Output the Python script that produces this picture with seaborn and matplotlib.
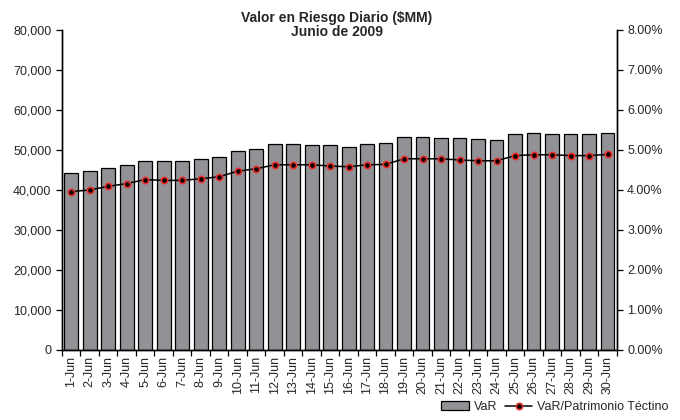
import numpy as np
import pandas as pd
import matplotlib
matplotlib.use("Agg")
import matplotlib.pyplot as plt
from matplotlib.ticker import FuncFormatter, FixedLocator
from matplotlib.patches import Patch
from matplotlib.lines import Line2D
import seaborn as sns

# Data
dates = [f"{d}-Jun" for d in range(1, 31)]
var_mm = [44170, 44670, 45580, 46250, 47170, 47170, 47170, 47670, 48170, 49670,
          50250, 51420, 51420, 51170, 51170, 50750, 51500, 51670, 53250, 53250,
          53000, 53000, 52750, 52500, 54080, 54330, 54080, 54080, 54080, 54330]
var_ratio = [3.96, 4.00, 4.09, 4.16, 4.26, 4.24, 4.24, 4.28, 4.33, 4.47,
             4.53, 4.63, 4.63, 4.63, 4.60, 4.58, 4.63, 4.64, 4.78, 4.78,
             4.78, 4.75, 4.73, 4.73, 4.86, 4.88, 4.88, 4.86, 4.86, 4.89]

df = pd.DataFrame({"fecha": dates, "VaR": var_mm, "ratio": var_ratio})

sns.set_style("white")
plt.rcParams["font.family"] = ["Liberation Sans", "DejaVu Sans"]

fig = plt.figure(figsize=(6.8, 4.2), dpi=100)
ax = fig.add_axes([0.091, 0.1667, 0.816, 0.7619])

bar_color = "#929196"
sns.barplot(data=df, x="fecha", y="VaR", color=bar_color, edgecolor="black",
            linewidth=0.9, width=0.75, saturation=1, ax=ax)

ax2 = ax.twinx()
sns.pointplot(data=df, x="fecha", y="ratio", color="black", markers="o",
              linewidth=1.1, markersize=4.5, markeredgecolor="#e8302a",
              markeredgewidth=1.2, ax=ax2)

# --- axes and ticks ---
ax.set_xlim(-0.5, len(dates) - 0.5)
ax2.set_xlim(-0.5, len(dates) - 0.5)
ax.set_ylim(0, 80000)
ax2.set_ylim(0, 8)
ax.set_yticks(np.arange(0, 80001, 10000))
ax2.set_yticks(np.arange(0, 8.01, 1))
ax.yaxis.set_major_formatter(FuncFormatter(lambda v, p: f"{int(v):,}"))
ax2.yaxis.set_major_formatter(FuncFormatter(lambda v, p: f"{v:.2f}%"))

ax.set_xlabel("")
ax.set_ylabel("")
ax2.set_ylabel("")
ax2.set_xlabel("")

ax.tick_params(axis="x", which="major", length=0, labelsize=9, rotation=90, pad=4)
ax.xaxis.set_minor_locator(FixedLocator(np.arange(-0.5, len(dates), 1)))
ax.tick_params(axis="x", which="minor", length=4, width=0.9, direction="out",
               bottom=True, color="black")
ax.tick_params(axis="y", length=4, width=0.9, direction="out", left=True,
               color="black", labelsize=9)
ax2.tick_params(axis="y", length=4, width=0.9, direction="out", right=True,
                color="black", labelsize=9)

for a in (ax, ax2):
    a.spines["top"].set_visible(False)
    for s in ("left", "right", "bottom"):
        a.spines[s].set_color("black")
        a.spines[s].set_linewidth(1.0)
    a.grid(False)

# --- title ---
fig.text(0.495, 0.958, "Valor en Riesgo Diario ($MM)", ha="center", va="center",
         fontsize=10, fontweight="bold")
fig.text(0.495, 0.925, "Junio de 2009", ha="center", va="center",
         fontsize=10, fontweight="bold")

# --- legend ---
handles = [
    Patch(facecolor=bar_color, edgecolor="black", linewidth=0.9),
    Line2D([0], [0], color="black", lw=1.1, marker="o", markersize=4.5,
           markerfacecolor="black", markeredgecolor="#e8302a", markeredgewidth=1.2),
]
fig.legend(handles, ["VaR", "VaR/Patrimonio Téctino"], loc="lower right",
           bbox_to_anchor=(1.0, -0.01), ncol=2, frameon=False, fontsize=9,
           handlelength=2.2, columnspacing=0.6, handletextpad=0.4)

fig.savefig("out.png", dpi=100)
